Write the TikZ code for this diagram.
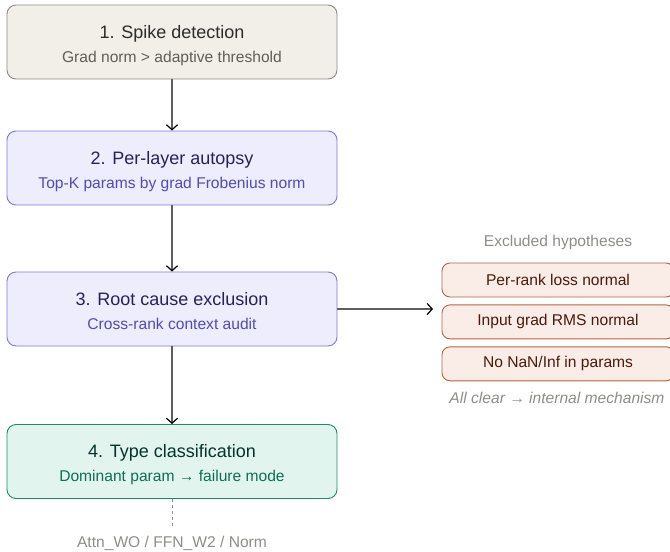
\documentclass[tikz,border=0pt]{standalone}
\usepackage{fontspec}
\setmainfont{Liberation Sans}
\usepackage{xcolor}
\usetikzlibrary{arrows.meta,positioning,calc}

\definecolor{grayfill}{HTML}{F1EFE8}
\definecolor{graydraw}{HTML}{8C8B86}
\definecolor{graytitle}{HTML}{2C2C2A}
\definecolor{graysub}{HTML}{5F5E5A}
\definecolor{purpfill}{HTML}{EEEDFE}
\definecolor{purpdraw}{HTML}{7F77DD}
\definecolor{purptitle}{HTML}{26215C}
\definecolor{purpsub}{HTML}{534AB7}
\definecolor{tealfill}{HTML}{E1F5EE}
\definecolor{tealdraw}{HTML}{1D8A6A}
\definecolor{tealtitle}{HTML}{04342C}
\definecolor{tealsub}{HTML}{0F6E56}
\definecolor{redfill}{HTML}{FAECE7}
\definecolor{reddraw}{HTML}{B5623F}
\definecolor{redtext}{HTML}{4A1B0C}
\definecolor{notegray}{HTML}{8E8D88}
\definecolor{linegray}{HTML}{5F5E5A}

\newcommand{\titlefont}{\fontsize{18}{21}\selectfont}
\newcommand{\subfont}{\fontsize{15.6}{18}\selectfont}

\begin{document}
\begin{tikzpicture}[x=1pt,y=-1pt,
    stage/.style={draw, rounded corners=9pt, line width=0.9pt, minimum width=330pt,
        minimum height=74pt, inner sep=0pt},
    title/.style={anchor=base, font=\titlefont, inner sep=0pt},
    sub/.style={anchor=base, font=\subfont, inner sep=0pt},
    hypo/.style={draw=reddraw, fill=redfill, rounded corners=8pt, line width=0.9pt,
        minimum width=232pt, minimum height=34pt, inner sep=0pt,
        font=\subfont, text=redtext},
    note/.style={font=\subfont, text=notegray},
    flow/.style={draw=linegray, line width=1.4pt, -{Straight Barb[length=5pt,width=11pt,line width=1.2pt,color=black]}}]
\useasboundingbox (0,0) rectangle (670,552);

% stages
\node[stage, draw=graydraw, fill=grayfill] (spike) at (172,42) {};
\node[title, graytitle] (spike-t) at ($(spike.north)+(0,33.5)$) {1. Spike detection};
\node[sub, graysub] (spike-s) at ($(spike.north)+(0,57.5)$) {Grad norm > adaptive threshold};

\node[stage, draw=purpdraw, fill=purpfill] (autopsy) at (172,168) {};
\node[title, purptitle] (autopsy-t) at ($(autopsy.north)+(0,33.5)$) {2. Per-layer autopsy};
\node[sub, purpsub] (autopsy-s) at ($(autopsy.north)+(0,57.5)$) {Top-K params by grad Frobenius norm};

\node[stage, draw=purpdraw, fill=purpfill] (cause) at (172,309) {};
\node[title, purptitle] (cause-t) at ($(cause.north)+(0,33.5)$) {3. Root cause exclusion};
\node[sub, purpsub] (cause-s) at ($(cause.north)+(0,57.5)$) {Cross-rank context audit};

\node[stage, draw=tealdraw, fill=tealfill] (classify) at (172,461.5) {};
\node[title, tealtitle] (classify-t) at ($(classify.north)+(0,33.5)$) {4. Type classification};
\node[sub, tealsub] (classify-s) at ($(classify.north)+(0,57.5)$) {Dominant param → failure mode};

\draw[flow] (spike) -- (autopsy);
\draw[flow] (autopsy) -- (cause);
\draw[flow] (cause) -- (classify);

% excluded hypotheses
\node[note] (exhead) at (558,242) {Excluded hypotheses};
\node[hypo] (loss) at (558,280) {Per-rank loss normal};
\node[hypo, below=7pt of loss] (rms) {Input grad RMS normal};
\node[hypo, below=7pt of rms] (nan) {No NaN/Inf in params};
\node[note, font=\subfont\itshape] (clear) at (557,398) {All clear → internal mechanism};
\coordinate (hyparrow) at (433,309);
\draw[flow] (cause.east) -- (hyparrow);

% output types
\node[note] (types) at (172,543) {Attn\_WO / FFN\_W2 / Norm};
\draw[notegray, line width=0.8pt, dashed] (classify.south) -- ++(0,28);
\end{tikzpicture}
\end{document}
